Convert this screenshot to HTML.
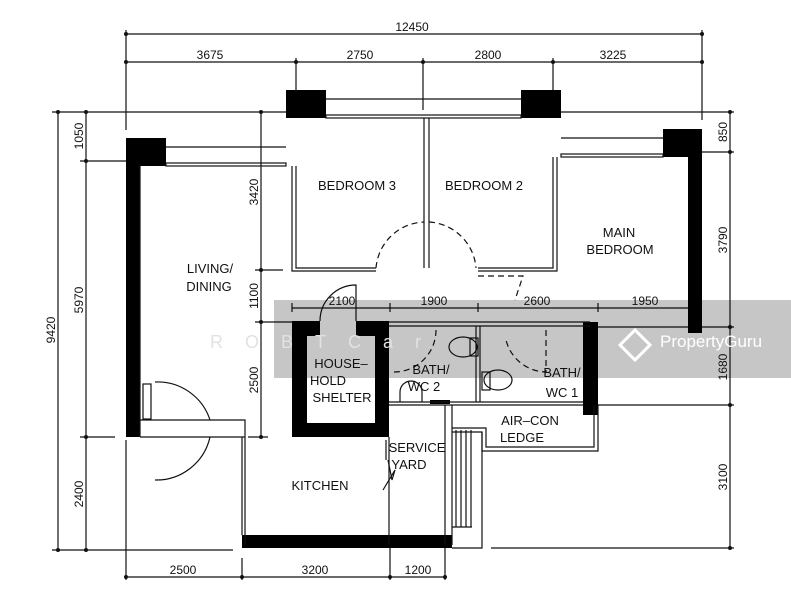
<!DOCTYPE html>
<html><head><style>
html,body{margin:0;padding:0;background:#fff;}
svg{display:block;}
text{font-family:"Liberation Sans",sans-serif;fill:#111;}
</style></head><body>
<svg width="791" height="600" viewBox="0 0 791 600" xmlns="http://www.w3.org/2000/svg">
<g stroke="#111" stroke-width="1.2" fill="none">
<line x1="126" y1="34" x2="702" y2="34"/>
<line x1="126" y1="62" x2="702" y2="62"/>
<line x1="126" y1="30" x2="126" y2="130"/>
<line x1="702" y1="30" x2="702" y2="120"/>
<line x1="296" y1="58" x2="296" y2="90"/>
<line x1="423" y1="58" x2="423" y2="110"/>
<line x1="553" y1="58" x2="553" y2="90"/>
<line x1="58" y1="112" x2="58" y2="550"/>
<line x1="86" y1="112" x2="86" y2="550"/>
<line x1="52" y1="112" x2="286" y2="112"/>
<line x1="80" y1="161" x2="126" y2="161"/>
<line x1="80" y1="437" x2="115" y2="437"/>
<line x1="52" y1="550" x2="233" y2="550"/>
<line x1="261" y1="112" x2="261" y2="437"/>
<line x1="255" y1="270" x2="283" y2="270"/>
<line x1="255" y1="322" x2="292" y2="322"/>
<line x1="248" y1="437" x2="268" y2="437"/>
<line x1="730" y1="112" x2="730" y2="548"/>
<line x1="561" y1="112" x2="734" y2="112"/>
<line x1="702" y1="152" x2="734" y2="152"/>
<line x1="598" y1="327" x2="734" y2="327"/>
<line x1="598" y1="405" x2="734" y2="405"/>
<line x1="491" y1="548" x2="734" y2="548"/>
<line x1="126" y1="577" x2="445" y2="577"/>
<line x1="126" y1="440" x2="126" y2="580"/>
<line x1="242" y1="558" x2="242" y2="580"/>
<line x1="390" y1="548" x2="390" y2="580"/>
<line x1="445" y1="548" x2="445" y2="580"/>
<line x1="292" y1="308" x2="688" y2="308"/>
<line x1="292" y1="303" x2="292" y2="312"/>
<line x1="390" y1="303" x2="390" y2="312"/>
<line x1="478" y1="303" x2="478" y2="312"/>
<line x1="598" y1="303" x2="598" y2="312"/>
</g>
<g fill="#111">
<circle cx="126" cy="34" r="2"/><circle cx="702" cy="34" r="2"/>
<circle cx="126" cy="62" r="2"/><circle cx="296" cy="62" r="2"/><circle cx="423" cy="62" r="2"/><circle cx="553" cy="62" r="2"/><circle cx="702" cy="62" r="2"/>
<circle cx="58" cy="112" r="2"/><circle cx="86" cy="112" r="2"/><circle cx="86" cy="161" r="2"/><circle cx="86" cy="437" r="2"/><circle cx="58" cy="550" r="2"/><circle cx="86" cy="550" r="2"/>
<circle cx="261" cy="112" r="2"/><circle cx="261" cy="270" r="2"/><circle cx="261" cy="322" r="2"/><circle cx="261" cy="437" r="2"/>
<circle cx="730" cy="112" r="2"/><circle cx="730" cy="152" r="2"/><circle cx="730" cy="327" r="2"/><circle cx="730" cy="405" r="2"/><circle cx="730" cy="548" r="2"/>
<circle cx="126" cy="577" r="2"/><circle cx="242" cy="577" r="2"/><circle cx="390" cy="577" r="2"/><circle cx="445" cy="577" r="2"/>
</g>
<g fill="#000">
<rect x="126" y="138" width="40" height="28"/>
<rect x="126" y="166" width="14" height="271"/>
<rect x="286" y="90" width="40" height="28"/>
<rect x="521" y="90" width="40" height="28"/>
<rect x="663" y="129" width="39" height="28"/>
<rect x="688" y="157" width="14" height="176"/>
<rect x="583" y="322" width="15" height="93"/>
<rect x="242" y="535" width="210" height="13"/>
<path d="M292 321H389V437H292Z M307 336V423H375V336Z" fill-rule="evenodd"/>
<rect x="430" y="400" width="20" height="4"/>
</g>
<rect x="320" y="321" width="36" height="16" fill="#fff"/>
<g stroke="#111" stroke-width="1.2" fill="none">
<rect x="166" y="163" width="120" height="3"/>
<rect x="326" y="115" width="195" height="3"/>
<rect x="561" y="154" width="102" height="3"/>
<line x1="166" y1="147" x2="286" y2="147"/>
<line x1="326" y1="99" x2="521" y2="99"/>
<line x1="561" y1="138" x2="663" y2="138"/>
<path d="M292 166V271H376 M296 166V268H376"/>
<path d="M424 118V268 M429 118V268"/>
<path d="M553 157V268H478 M557 157V271H478"/>
<path d="M376 268A50 50 0 0 1 424 222" stroke-dasharray="6,4"/>
<path d="M429 222A50 50 0 0 1 476 268" stroke-dasharray="6,4"/>
<path d="M478 276H523L515 300" stroke-dasharray="6,4"/>
<path d="M140 166V437 M140 420H245V437 M140 437H245"/>
<path d="M245 437V545 M242 437V535"/>
<path d="M155 382A55 55 0 0 1 210 420 M155 480A55 55 0 0 0 210 437"/>
<rect x="143" y="384" width="8" height="35"/>
<path d="M320 321A36 36 0 0 1 356 285V321"/>
<path d="M389 322H590 M389 326H590 M389 402H583 M389 405H583"/>
<path d="M476 326V402 M480 326V402"/>
<path d="M436 330A42 42 0 0 1 394 372" stroke-dasharray="6,4"/>
<path d="M546 330V372A42 42 0 0 1 506 340" stroke-dasharray="6,4"/>
<ellipse cx="463" cy="347" rx="14" ry="10"/><rect x="470" y="338" width="8" height="18"/>
<ellipse cx="498" cy="380" rx="14" ry="10"/><rect x="482" y="372" width="8" height="18"/>
<path d="M400 402V392A10 10 0 0 1 422 392V402"/>
<path d="M598 405V451H482V432H452 M594 405V447H486V428H452"/>
<path d="M389 437V545 M452 405V545 M445 405V545"/>
<path d="M386 440V460 M388 460L392 480 395 470 383 490"/>
<path d="M456 430V527 M461 430V527 M466 430V527 M471 430V527 M452 527H472 M482 432V548H452"/>
</g>
<rect x="274" y="300" width="517" height="78" fill="#c6c6c6" style="mix-blend-mode:multiply"/>
<text x="210" y="348" font-size="18" style="fill:#e2e2e2" letter-spacing="22">ROBTCar</text>
<text x="660" y="347" font-size="17" style="fill:#fff">PropertyGuru</text>
<path d="M620 345L635 330L650 345L635 360Z" fill="none" stroke="#fff" stroke-width="3"/>
<g font-size="12" text-anchor="middle">
<text x="412" y="31">12450</text>
<text x="210" y="59">3675</text><text x="360" y="59">2750</text><text x="488" y="59">2800</text><text x="613" y="59">3225</text>
<text x="183" y="574">2500</text><text x="315" y="574">3200</text><text x="418" y="574">1200</text>
<text x="342" y="305">2100</text><text x="434" y="305">1900</text><text x="537" y="305">2600</text><text x="645" y="305">1950</text>
<text transform="translate(55,330) rotate(-90)">9420</text>
<text transform="translate(83,136) rotate(-90)">1050</text>
<text transform="translate(83,300) rotate(-90)">5970</text>
<text transform="translate(83,494) rotate(-90)">2400</text>
<text transform="translate(258,192) rotate(-90)">3420</text>
<text transform="translate(258,296) rotate(-90)">1100</text>
<text transform="translate(258,380) rotate(-90)">2500</text>
<text transform="translate(727,132) rotate(-90)">850</text>
<text transform="translate(727,240) rotate(-90)">3790</text>
<text transform="translate(727,367) rotate(-90)">1680</text>
<text transform="translate(727,477) rotate(-90)">3100</text>
</g>
<g font-size="13" text-anchor="middle">
<text x="357" y="190">BEDROOM  3</text>
<text x="484" y="190">BEDROOM  2</text>
<text x="619" y="237">MAIN</text><text x="620" y="254">BEDROOM</text>
<text x="210" y="273">LIVING/</text><text x="209" y="291">DINING</text>
<text x="341" y="368">HOUSE–</text><text x="328" y="385">HOLD</text><text x="342" y="402">SHELTER</text>
<text x="431" y="374">BATH/</text><text x="424" y="391">WC  2</text>
<text x="562" y="377">BATH/</text><text x="562" y="397">WC  1</text>
<text x="530" y="425">AIR–CON</text><text x="522" y="442">LEDGE</text>
<text x="417" y="452">SERVICE</text><text x="409" y="469">YARD</text>
<text x="320" y="490">KITCHEN</text>
</g>
</svg>
</body></html>
